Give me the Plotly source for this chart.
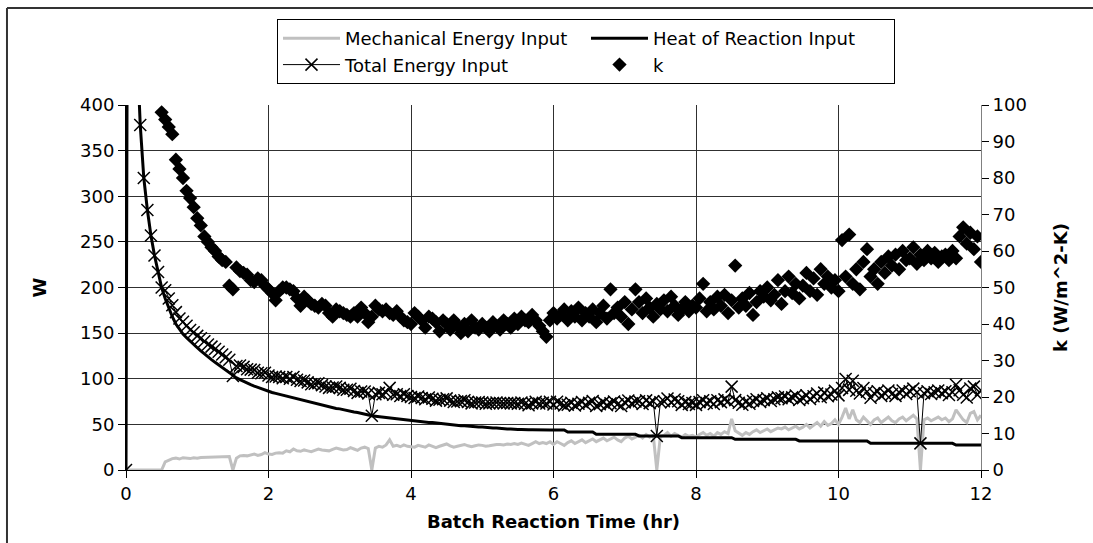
import plotly.graph_objects as go

# sampling times (hr), every 0.05 hr from 0 to 12
time_hr = [round(0.05 * i, 2) for i in range(241)]

heat_of_reaction = [
    0, 1400, 700, 470, 378, 320, 285, 257, 235, 217,
    200, 188, 177, 168, 160, 154, 149, 145, 141, 137.5,
    134, 130.5, 127, 124, 121, 118, 115, 112, 109, 106,
    103, 101, 99, 97, 95, 93.5, 92, 90.5, 89, 87.5,
    86, 85, 84, 83, 82, 81, 80, 79, 78, 77,
    76, 75, 74, 73, 72, 71, 70, 69, 68, 67.5,
    67, 66, 65.5, 64.5, 63.5, 63, 62, 61, 60.5, 59.5,
    59, 58.5, 58, 57.5, 57, 56.5, 56, 55.5, 55.5, 55,
    54.5, 54, 53.5, 53, 52.5, 52, 52, 51.5, 51, 50.5,
    50, 49.5, 49.5, 49, 48.5, 48.5, 48, 47.5, 47.5, 47,
    47, 46.5, 46.5, 46, 46, 45.5, 45.5, 45, 45, 44.5,
    44.5, 44.5, 44, 44, 44, 43.8, 43.8, 43.8, 43.8, 43.8,
    43.8, 43.8, 43.8, 43.8,
    41.6, 41.6, 41.6, 41.6, 41.6, 41.6, 41.6, 41.6,
    39.1, 39.1, 39.1, 39.1, 39.1, 39.1, 39.1, 39.1, 39.1, 39.1, 39.1, 39.1,
    37.3, 37.3, 37.3, 37.3, 37.3, 37.3, 37.3, 37.3, 37.3, 37.3, 37.3, 37.3,
    35.4, 35.4, 35.4, 35.4, 35.4, 35.4, 35.4, 35.4, 35.4, 35.4, 35.4, 35.4, 35.4, 35.4, 35.4,
    33.6, 33.6, 33.6, 33.6, 33.6, 33.6, 33.6, 33.6, 33.6, 33.6, 33.6, 33.6, 33.6, 33.6, 33.6, 33.6, 33.6, 33.6,
    31.8, 31.8, 31.8, 31.8, 31.8, 31.8, 31.8, 31.8, 31.8, 31.8,
    31.8, 31.8, 31.8, 31.8, 31.8, 31.8, 31.8, 31.8, 31.8, 31.8,
    29.2, 29.2, 29.2, 29.2, 29.2, 29.2, 29.2, 29.2, 29.2, 29.2, 29.2, 29.2,
    29.2, 29.2, 29.2, 29.2, 29.2, 29.2, 29.2, 29.2, 29.2, 29.2, 29.2, 29.2,
    27.4, 27.4, 27.4, 27.4, 27.4, 27.4, 27.4, 27.4,
]

mechanical = [
    0, 0, 0, 0, 0, 0, 0, 0, 0, 0, 0,
    9, 11, 12.5, 13, 12, 13.5, 13, 12.5, 13.5,
    13, 13.8, 14, 13.5, 14.2, 14.5, 14.5, 14.6, 14.5, 14.8,
    0, 13, 15.5, 16, 15.5, 16.5, 17.5, 16, 17, 19,
    17.5, 17, 18.5, 19, 18.5, 21, 20, 23, 21, 20.5,
    22, 21, 20, 21.5, 23, 22, 21.5, 21, 22.5, 24,
    23, 22, 22.5, 24.5, 23, 21.5, 24, 25, 23.5, 0,
    24, 26, 25, 27.5, 33, 26, 27, 25.5, 27.5, 26,
    25.5, 25, 27, 26, 25, 27.5, 26, 24.5, 26, 27,
    28.5, 26.5, 25, 26, 27, 28, 26.5, 25.5, 26.5, 27.5,
    27, 26, 26.5, 27.5, 28, 28, 27.5, 28.5, 28, 29,
    28, 29.5, 28.5, 27, 29, 31, 29, 30, 29, 31,
    28, 31, 29, 27, 30, 32, 29, 31, 33, 30,
    32, 34, 31, 33, 35, 32, 34, 36, 33, 31,
    35, 37, 34, 36, 38, 35, 39, 36, 38, 0,
    37, 38, 41, 37, 40, 38, 36, 39, 37, 38,
    36, 39, 41, 38, 40, 37, 41, 39, 42, 40,
    56, 43, 40, 38, 41, 39, 42, 44, 41, 43,
    45, 42, 44, 46, 45, 47, 44, 46, 48, 45,
    47, 50, 46, 49, 52, 48, 53, 49, 51, 55,
    50, 58, 68, 56, 66, 55, 52, 58, 54, 50,
    55, 57, 52, 55, 58, 54, 52, 56, 58, 54,
    57, 60, 56, 0, 55, 57, 54, 56, 58, 55,
    57, 53, 56, 66, 60, 55, 52, 62, 64, 55,
    60,
]

# total energy input = mechanical + heat of reaction
total_energy = [h + m for h, m in zip(heat_of_reaction, mechanical)]

k_time_hr = time_hr[10:]
k_values = [
    98, 96, 94, 92, 85, 82.5, 80, 76.5, 74.5, 72,
    69, 67, 64, 62.5, 61, 60, 58.5, 57.5, 57, 50.5,
    49.5, 55.5, 54.5, 54, 53.5, 52, 51.5, 52.5, 52, 50.5,
    49.5, 48.5, 46.5, 49, 50, 50, 49.5, 49, 47, 45,
    47.5, 46.5, 45.5, 45, 44.5, 45.5, 45, 43, 42, 44,
    43.5, 43, 42.5, 42, 43, 42, 44.5, 43, 40.5, 42,
    45, 44, 43.5, 44, 43, 42.5, 43.5, 42, 41, 40.5,
    40, 43, 42, 41, 39, 42, 41.5, 40.5, 38, 41,
    40, 38.5, 41, 39.5, 37.5, 40, 38, 41, 39, 38.5,
    40, 39, 38, 40.5, 39.5, 38.5, 41, 40, 39, 41.5,
    40, 42, 41, 40.5, 42.5, 41, 39.5, 38, 36.5, 41,
    43, 41.5, 42.5, 44, 41, 43.5, 42, 44.5, 41, 43,
    42, 44, 40.5, 43, 45, 41.5, 49.5, 43, 44.5, 42,
    46, 40, 44, 49.5, 46, 43, 47, 44.5, 42, 45.5,
    44, 46.5, 43.5, 47.5, 45, 42.5, 44, 46, 43.5, 45,
    44.5, 47, 51, 43.5, 46, 44, 47.5, 45, 48, 43,
    46.5, 56, 44.5, 47, 45, 48.5, 42.5, 46, 49, 47.5,
    50, 46.5, 48, 52, 45.5, 49, 53, 48.5, 51, 47,
    50.5, 54, 49, 52.5, 48, 55, 51, 53, 50, 52,
    49, 63, 53, 64.5, 51, 55, 49.5, 57, 60.5, 53,
    55, 51, 57, 54, 58.5, 56, 59, 55, 60, 57.5,
    58, 61, 56.5, 59, 57.5, 60, 58, 59.5, 57, 58.5,
    59, 57.5, 60, 58, 64, 66.5, 62, 65, 60.5, 64,
    57,
]

FONT = "DejaVu Sans, Liberation Sans, Arial, sans-serif"
GRID = "#303030"

fig = go.Figure()
fig.add_trace(go.Scatter(
    x=time_hr, y=mechanical, name="Mechanical Energy Input", mode="lines",
    line=dict(color="#C0C0C0", width=3)))
fig.add_trace(go.Scatter(
    x=time_hr, y=heat_of_reaction, name="Heat of Reaction Input", mode="lines",
    line=dict(color="black", width=3)))
fig.add_trace(go.Scatter(
    x=time_hr, y=total_energy, name="Total Energy Input", mode="lines+markers",
    line=dict(color="black", width=1),
    marker=dict(symbol="x-thin", size=12, color="black",
                line=dict(width=1.5, color="black"))))
fig.add_trace(go.Scatter(
    x=k_time_hr, y=k_values, name="k", mode="markers", yaxis="y2",
    marker=dict(symbol="diamond", size=11, color="black")))

fig.update_layout(
    width=1093, height=543,
    margin=dict(l=126, r=112, t=105, b=73),
    paper_bgcolor="white", plot_bgcolor="white",
    font=dict(family=FONT, size=18, color="black"),
    showlegend=True,
    legend=dict(
        orientation="h", x=0.1766, y=1.2356, xanchor="left", yanchor="top",
        entrywidth=236, entrywidthmode="pixels", itemwidth=57,
        bordercolor="black", borderwidth=1, bgcolor="white",
        font=dict(family=FONT, size=18, color="black"),
        traceorder="normal",
    ),
    xaxis=dict(
        range=[0, 12], dtick=2, tick0=0,
        showgrid=True, gridcolor=GRID, gridwidth=1, zeroline=False,
        showline=True, linecolor="black", linewidth=1,
        ticks="outside", ticklen=7, tickcolor="black",
        tickfont=dict(size=18),
        title=dict(text="<b>Batch Reaction Time (hr)</b>", standoff=12,
                   font=dict(size=18)),
    ),
    yaxis=dict(
        range=[0, 400], dtick=50, tick0=0,
        showgrid=True, gridcolor=GRID, gridwidth=1, zeroline=False,
        showline=True, linecolor="black", linewidth=1,
        ticks="outside", ticklen=7, tickcolor="black",
        tickfont=dict(size=18),
        title=dict(text="<b>W</b>", standoff=28, font=dict(size=18)),
    ),
    yaxis2=dict(
        overlaying="y", side="right",
        range=[0, 100], dtick=10, tick0=0,
        showgrid=False, zeroline=False,
        showline=True, linecolor="#808080", linewidth=1,
        ticks="outside", ticklen=7, tickcolor="black",
        tickfont=dict(size=18),
        title=dict(text="<b>k (W/m^2-K)</b>", standoff=28, font=dict(size=18)),
    ),
    shapes=[
        dict(type="line", xref="paper", yref="paper",
             x0=-0.1392, x1=-0.1392, y0=-0.25, y1=1.2658,
             line=dict(color="#333333", width=2)),
        dict(type="line", xref="paper", yref="paper",
             x0=-0.1392, x1=1.2, y0=1.2658, y1=1.2658,
             line=dict(color="#333333", width=2)),
    ],
)

fig.write_html("out.html", config={"displayModeBar": False},
               post_script="document.body.style.margin='0px';")
